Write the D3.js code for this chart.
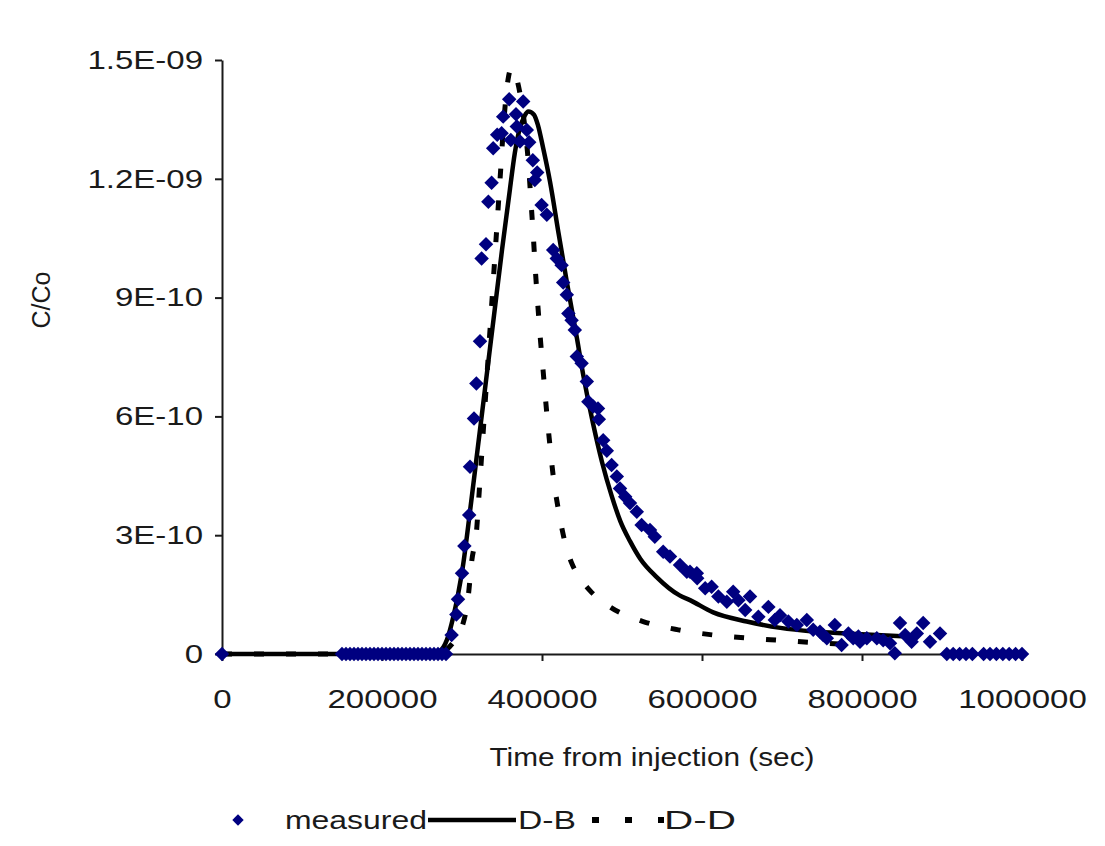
<!DOCTYPE html>
<html>
<head>
<meta charset="utf-8">
<script src="https://cdn.jsdelivr.net/npm/d3@7"></script>
<style>
  html, body { margin: 0; padding: 0; background: #ffffff; }
  svg { display: block; }
</style>
</head>
<body>
<svg id="chart" width="1105" height="846"></svg>
<script>
// ---------------- DATA ----------------
const xTickValues = [0, 200000, 400000, 600000, 800000, 1000000];
const xTickLabels = ["0", "200000", "400000", "600000", "800000", "1000000"];
const yTickValues = [0, 3e-10, 6e-10, 9e-10, 1.2e-9, 1.5e-9];
const yTickLabels = ["0", "3E-10", "6E-10", "9E-10", "1.2E-09", "1.5E-09"];

const xTitle = "Time from injection (sec)";
const yTitle = "C/Co";
const seriesNames = ["measured", "D-B", "D-D"];

// measured (diamonds)
const measuredTime = [
  0,
  150000, 155000, 160000, 165000, 170000, 175000, 180000, 185000, 190000, 195000,
  200000, 205000, 210000, 215000, 220000, 225000, 230000, 235000, 240000, 245000,
  250000, 255000, 260000, 265000, 270000, 275000, 280000,
  287000, 293000, 295000, 300000, 303000, 309000, 310000, 315000, 318000, 322500,
  324500, 330000, 333000, 337000, 339000, 344000, 349500, 351500, 359000, 361000,
  367500, 368500, 372500, 376500, 381000, 384000, 388500, 391000, 394000, 399500,
  406000, 414000, 418500, 424500, 426500, 431000, 433000, 437000, 441000, 443500,
  449500, 456000, 458000, 464000, 470000, 471000, 476500, 481000, 487000, 493500,
  497500, 504000, 510000, 518500, 524500, 535000, 541000, 551500, 560000, 572500,
  581000, 585000, 593500, 594000, 604000, 612000, 620500, 631000, 639000, 645500,
  654000, 660000, 670500, 683000, 691000, 697500, 708000, 718500, 731000, 739000,
  747500, 751500, 756000, 766000, 774500, 783000, 789000, 795500, 797500, 806000,
  818500, 826500, 835000, 841000, 847500, 854000, 862000, 868500, 876500, 885000,
  897500,
  906000, 914000, 922000, 930000, 938000,
  952000, 960000, 968000, 976000, 984000, 992000, 1000000
];
const measuredValue = [
  0,
  0, 0, 0, 0, 0, 0, 0, 0, 0, 0,
  0, 0, 0, 0, 0, 0, 0, 0, 0, 0,
  0, 0, 0, 0, 0, 0, 0,
  0.48e-10, 1.00e-10, 1.38e-10, 2.04e-10, 2.73e-10, 3.51e-10, 4.73e-10, 5.95e-10, 6.83e-10, 7.90e-10,
  9.99e-10, 10.35e-10, 11.42e-10, 11.90e-10, 12.77e-10, 13.11e-10, 13.15e-10, 13.57e-10, 14.01e-10, 12.98e-10,
  13.63e-10, 13.32e-10, 12.94e-10, 13.95e-10, 13.23e-10, 12.92e-10, 12.47e-10, 11.97e-10, 12.16e-10, 11.34e-10,
  11.09e-10, 10.20e-10, 9.99e-10, 9.82e-10, 9.38e-10, 9.07e-10, 8.60e-10, 8.43e-10, 8.18e-10, 7.51e-10,
  7.34e-10, 6.88e-10, 6.37e-10, 6.25e-10, 6.20e-10, 5.93e-10, 5.40e-10, 5.13e-10, 4.77e-10, 4.48e-10,
  4.18e-10, 3.97e-10, 3.81e-10, 3.59e-10, 3.26e-10, 3.13e-10, 2.96e-10, 2.58e-10, 2.46e-10, 2.25e-10,
  2.08e-10, 2.08e-10, 2.04e-10, 1.91e-10, 1.66e-10, 1.70e-10, 1.45e-10, 1.32e-10, 1.57e-10, 1.36e-10,
  1.11e-10, 1.45e-10, 0.94e-10, 1.19e-10, 0.86e-10, 0.98e-10, 0.82e-10, 0.73e-10, 0.86e-10, 0.61e-10,
  0.56e-10, 0.48e-10, 0.40e-10, 0.73e-10, 0.23e-10, 0.52e-10, 0.40e-10, 0.44e-10, 0.31e-10, 0.40e-10,
  0.40e-10, 0.35e-10, 0.27e-10, 0.02e-10, 0.78e-10, 0.48e-10, 0.31e-10, 0.52e-10, 0.78e-10, 0.31e-10,
  0.52e-10,
  0, 0, 0, 0, 0,
  0, 0, 0, 0, 0, 0, 0
];

// D-B model (solid line)
const dbTime = [
  0, 100000, 200000, 260000, 272500, 281000, 289000, 295000, 301000, 310000,
  320000, 330000, 340000, 350000, 360000, 366000, 372000, 378000, 383000, 390000,
  395000, 401500, 410000, 420500, 431000, 443000, 452000, 464000, 475000, 487000,
  498000, 510000, 523000, 543000, 572000, 585000, 614000, 656000, 698000, 739000,
  780000, 850000
];
const dbValue = [
  0, 0, 0, 0, 0.08e-10, 0.35e-10, 0.93e-10, 1.50e-10, 2.20e-10, 3.60e-10,
  5.25e-10, 6.90e-10, 8.55e-10, 10.20e-10, 11.75e-10, 12.65e-10, 13.25e-10, 13.58e-10, 13.70e-10, 13.62e-10,
  13.35e-10, 12.77e-10, 11.93e-10, 10.65e-10, 9.40e-10, 8.05e-10, 7.00e-10, 5.80e-10, 4.85e-10, 4.00e-10,
  3.35e-10, 2.85e-10, 2.40e-10, 1.95e-10, 1.48e-10, 1.36e-10, 1.05e-10, 0.82e-10, 0.66e-10, 0.57e-10,
  0.52e-10, 0.45e-10
];

// D-D model (dashed line)
const ddTime = [
  0, 100000, 200000, 260000, 272500, 280000, 291000, 299500, 308000, 312000,
  318500, 321200, 327800, 334400, 341000, 347600, 352500, 357500, 362000, 366500,
  372500, 378000, 383000, 386000, 389000, 392000, 395000, 398000, 401500, 405000,
  409000, 414000, 420500, 429000, 437000, 445500, 460000, 485000, 526500, 570500,
  614000, 658000, 701500, 743500, 797500
];
const ddValue = [
  0, 0, 0, 0, 0.02e-10, 0.10e-10, 0.35e-10, 0.65e-10, 1.49e-10, 2.32e-10,
  3.19e-10, 4.00e-10, 6.00e-10, 8.00e-10, 10.00e-10, 12.00e-10, 13.50e-10, 14.50e-10, 14.80e-10, 14.65e-10,
  14.15e-10, 13.40e-10, 12.40e-10, 11.50e-10, 10.60e-10, 9.60e-10, 8.75e-10, 7.95e-10, 7.13e-10, 6.30e-10,
  5.45e-10, 4.50e-10, 3.64e-10, 2.80e-10, 2.30e-10, 1.98e-10, 1.60e-10, 1.19e-10, 0.82e-10, 0.61e-10,
  0.48e-10, 0.40e-10, 0.34e-10, 0.28e-10, 0.23e-10
];

// ---------------- CHART ----------------
const svg = d3.select("#chart");
const FONT = "'Liberation Sans', Arial, sans-serif";
const STRETCH = 1.27;
const TICK_FONT = 26;

const x = d3.scaleLinear().domain([0, 1000000]).range([222, 1022]);
const y = d3.scaleLinear().domain([0, 1.5e-9]).range([654, 60]);

svg.append("rect").attr("width", 1105).attr("height", 846).attr("fill", "#ffffff");

// horizontal stretch of text (the original picture is stretched sideways)
function stretchText(sel) {
  sel.each(function () {
    const t = d3.select(this);
    const tx = +t.attr("x") || 0;
    t.attr("x", 0).attr("transform", `translate(${tx},0) scale(${STRETCH},1)`);
  });
}

// Axes
const yAxis = d3.axisLeft(y)
  .tickValues(yTickValues)
  .tickFormat((d, i) => yTickLabels[i])
  .tickSizeInner(7).tickSizeOuter(0).tickPadding(12);
const gy = svg.append("g").attr("transform", "translate(222,0)").call(yAxis);

const xAxis = d3.axisBottom(x)
  .tickValues(xTickValues)
  .tickFormat((d, i) => xTickLabels[i])
  .tickSizeInner(7).tickSizeOuter(0).tickPadding(29);
const gx = svg.append("g").attr("transform", "translate(0,654)").call(xAxis);

[gx, gy].forEach(g => {
  g.select(".domain").attr("stroke", "#1a1a1a").attr("stroke-width", 2);
  g.selectAll(".tick line").attr("stroke", "#1a1a1a").attr("stroke-width", 2);
  g.selectAll(".tick text")
    .attr("font-family", FONT).attr("font-size", TICK_FONT).attr("fill", "#1a1a1a");
});
gy.selectAll(".tick text").call(stretchText);
gx.selectAll(".tick text").call(stretchText);

// Axis titles
svg.append("text")
  .attr("x", 652).attr("y", 766)
  .attr("text-anchor", "middle")
  .attr("font-family", FONT).attr("font-size", 25).attr("fill", "#1a1a1a")
  .attr("textLength", 325).attr("lengthAdjust", "spacingAndGlyphs")
  .text(xTitle);

svg.append("text")
  .attr("transform", "translate(50,300) rotate(-90)")
  .attr("text-anchor", "middle")
  .attr("font-family", FONT).attr("font-size", 25).attr("fill", "#1a1a1a")
  .text(yTitle);

// Lines
const line = d3.line()
  .x(d => x(d[0])).y(d => y(d[1]))
  .curve(d3.curveMonotoneX);

const dbData = dbTime.map((t, i) => [t, dbValue[i]]);
const ddData = ddTime.map((t, i) => [t, ddValue[i]]);
const measData = measuredTime.map((t, i) => [t, measuredValue[i]]);

svg.append("path").datum(dbData)
  .attr("d", line).attr("fill", "none")
  .attr("stroke", "#000000").attr("stroke-width", 4.5)
  .attr("stroke-linejoin", "round");

svg.append("path").datum(ddData)
  .attr("d", line).attr("fill", "none")
  .attr("stroke", "#000000").attr("stroke-width", 5)
  .attr("stroke-dasharray", "10,22");

// Diamonds
const diamond = d3.symbol().type(d3.symbolSquare).size(105);
svg.append("g").selectAll("path").data(measData).join("path")
  .attr("d", diamond)
  .attr("transform", d => `translate(${x(d[0])},${y(d[1])}) rotate(45)`)
  .attr("fill", "#000080");

// Legend
const lg = svg.append("g");
const legY = 820;
lg.append("path").attr("d", d3.symbol().type(d3.symbolSquare).size(65))
  .attr("transform", `translate(238,${legY}) rotate(45)`).attr("fill", "#000080");
lg.append("text").attr("x", 285).attr("y", legY + 9)
  .attr("font-family", FONT).attr("font-size", 26).attr("fill", "#1a1a1a")
  .attr("textLength", 142).attr("lengthAdjust", "spacingAndGlyphs")
  .text(seriesNames[0]);
lg.append("line").attr("x1", 428).attr("x2", 516).attr("y1", legY).attr("y2", legY)
  .attr("stroke", "#000").attr("stroke-width", 4.5);
lg.append("text").attr("x", 518).attr("y", legY + 9)
  .attr("font-family", FONT).attr("font-size", 26).attr("fill", "#1a1a1a")
  .attr("textLength", 58).attr("lengthAdjust", "spacingAndGlyphs")
  .text(seriesNames[1]);
lg.append("line").attr("x1", 592).attr("x2", 664).attr("y1", legY).attr("y2", legY)
  .attr("stroke", "#000").attr("stroke-width", 6)
  .attr("stroke-dasharray", "7,26");
lg.append("text").attr("x", 664).attr("y", legY + 9)
  .attr("font-family", FONT).attr("font-size", 26).attr("fill", "#1a1a1a")
  .attr("textLength", 72).attr("lengthAdjust", "spacingAndGlyphs")
  .text(seriesNames[2]);
</script>
</body>
</html>
